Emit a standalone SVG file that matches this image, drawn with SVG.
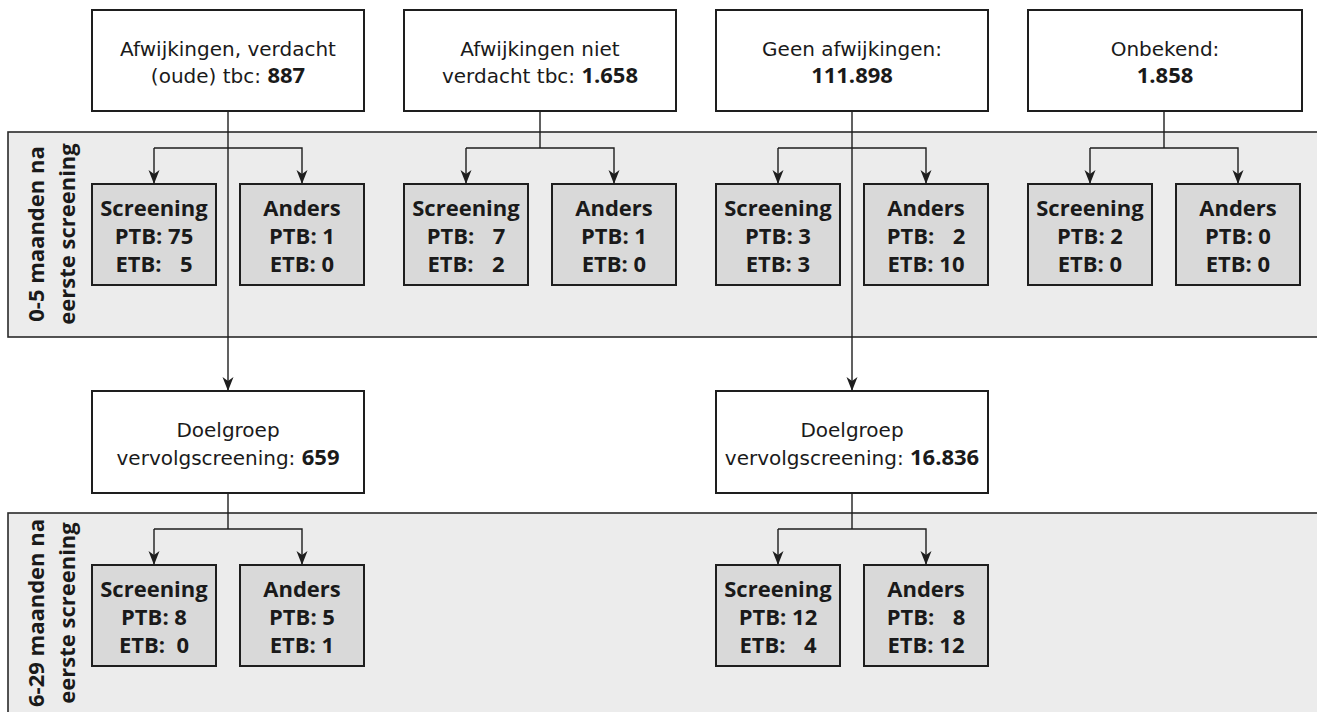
<svg xmlns="http://www.w3.org/2000/svg" width="1317" height="712" viewBox="0 0 1317 712">
<style>
.band{fill:#ececec;stroke:#2a2a2a;stroke-width:1.6}
.top{fill:#fff;stroke:#1e1e1e;stroke-width:2}
.sm{fill:#d9d9d9;stroke:#1e1e1e;stroke-width:2}
.tt{font-family:"DejaVu Sans","Liberation Sans",sans-serif;font-size:20px;fill:#1a1a1a;text-anchor:middle}
.tt .b{font-family:"Open Sans","Noto Sans",sans-serif;font-size:22px;font-weight:bold}
.st{font-family:"Open Sans","Noto Sans",sans-serif;font-size:22px;font-weight:bold;fill:#1a1a1a;text-anchor:middle}
.bl{font-family:"Open Sans","Noto Sans",sans-serif;font-size:22px;font-weight:bold;fill:#1a1a1a;text-anchor:middle}
.c{fill:none;stroke:#1e1e1e;stroke-width:1.4}
</style>
<defs>
<marker id="ah" markerUnits="userSpaceOnUse" markerWidth="15" markerHeight="12" refX="14" refY="5.5" orient="auto">
<path d="M0,0 L14,5.5 L0,11 L4,5.5 Z" fill="#1e1e1e"/>
</marker>
</defs>

<g id="band1">
<rect class="band" x="8" y="132" width="1320" height="205"/>
<text class="bl" transform="translate(44,234) rotate(-90)">0-5 maanden na</text>
<text class="bl" transform="translate(75,234) rotate(-90)">eerste screening</text>
</g>
<g id="band2">
<rect class="band" x="8" y="513" width="1320" height="220"/>
<text class="bl" transform="translate(44,613) rotate(-90)">6-29 maanden na</text>
<text class="bl" transform="translate(75,613) rotate(-90)">eerste screening</text>
</g>

<g id="connectors">
<path class="c" d="M228,111 V391" marker-end="url(#ah)"/>
<path class="c" d="M154,148 H302 V184" marker-end="url(#ah)"/>
<path class="c" d="M154,148 V184" marker-end="url(#ah)"/>
<path class="c" d="M540,111 V148"/>
<path class="c" d="M466,148 H614 V184" marker-end="url(#ah)"/>
<path class="c" d="M466,148 V184" marker-end="url(#ah)"/>
<path class="c" d="M852,111 V391" marker-end="url(#ah)"/>
<path class="c" d="M778,148 H926 V184" marker-end="url(#ah)"/>
<path class="c" d="M778,148 V184" marker-end="url(#ah)"/>
<path class="c" d="M1164,111 V148"/>
<path class="c" d="M1090,148 H1238 V184" marker-end="url(#ah)"/>
<path class="c" d="M1090,148 V184" marker-end="url(#ah)"/>
<path class="c" d="M228,493 V529"/>
<path class="c" d="M154,529 H302 V565" marker-end="url(#ah)"/>
<path class="c" d="M154,529 V565" marker-end="url(#ah)"/>
<path class="c" d="M852,493 V529"/>
<path class="c" d="M778,529 H926 V565" marker-end="url(#ah)"/>
<path class="c" d="M778,529 V565" marker-end="url(#ah)"/>
</g>

<g id="top1"><rect class="top" x="92" y="10" width="272" height="101"/>
<text class="tt" x="228" y="56">Afwijkingen, verdacht</text>
<text class="tt" x="228" y="83">(oude) tbc: <tspan class="b">887</tspan></text></g>
<g id="top2"><rect class="top" x="404" y="10" width="272" height="101"/>
<text class="tt" x="540" y="56">Afwijkingen niet</text>
<text class="tt" x="540" y="83">verdacht tbc: <tspan class="b">1.658</tspan></text></g>
<g id="top3"><rect class="top" x="716" y="10" width="272" height="101"/>
<text class="tt" x="852" y="56">Geen afwijkingen:</text>
<text class="tt" x="852" y="83"><tspan class="b">111.898</tspan></text></g>
<g id="top4"><rect class="top" x="1028" y="10" width="274" height="101"/>
<text class="tt" x="1165" y="56">Onbekend:</text>
<text class="tt" x="1165" y="83"><tspan class="b">1.858</tspan></text></g>

<g id="s1"><rect class="sm" x="92" y="184" width="124" height="101"/>
<text class="st" x="154" y="216">Screening</text><text class="st" x="154" y="244">PTB: 75</text><text class="st" x="154" y="272">ETB: &#8199;5</text></g>
<g id="a1"><rect class="sm" x="240" y="184" width="124" height="101"/>
<text class="st" x="302" y="216">Anders</text><text class="st" x="302" y="244">PTB: 1</text><text class="st" x="302" y="272">ETB: 0</text></g>
<g id="s2"><rect class="sm" x="404" y="184" width="124" height="101"/>
<text class="st" x="466" y="216">Screening</text><text class="st" x="466" y="244">PTB: &#8199;7</text><text class="st" x="466" y="272">ETB: &#8199;2</text></g>
<g id="a2"><rect class="sm" x="552" y="184" width="124" height="101"/>
<text class="st" x="614" y="216">Anders</text><text class="st" x="614" y="244">PTB: 1</text><text class="st" x="614" y="272">ETB: 0</text></g>
<g id="s3"><rect class="sm" x="716" y="184" width="124" height="101"/>
<text class="st" x="778" y="216">Screening</text><text class="st" x="778" y="244">PTB: 3</text><text class="st" x="778" y="272">ETB: 3</text></g>
<g id="a3"><rect class="sm" x="864" y="184" width="124" height="101"/>
<text class="st" x="926" y="216">Anders</text><text class="st" x="926" y="244">PTB: &#8199;2</text><text class="st" x="926" y="272">ETB: 10</text></g>
<g id="s4"><rect class="sm" x="1028" y="184" width="124" height="101"/>
<text class="st" x="1090" y="216">Screening</text><text class="st" x="1090" y="244">PTB: 2</text><text class="st" x="1090" y="272">ETB: 0</text></g>
<g id="a4"><rect class="sm" x="1176" y="184" width="124" height="101"/>
<text class="st" x="1238" y="216">Anders</text><text class="st" x="1238" y="244">PTB: 0</text><text class="st" x="1238" y="272">ETB: 0</text></g>

<g id="d1"><rect class="top" x="92" y="391" width="272" height="102"/>
<text class="tt" x="228" y="437">Doelgroep</text>
<text class="tt" x="228" y="465">vervolgscreening: <tspan class="b">659</tspan></text></g>
<g id="d2"><rect class="top" x="716" y="391" width="272" height="102"/>
<text class="tt" x="852" y="437">Doelgroep</text>
<text class="tt" x="852" y="465">vervolgscreening: <tspan class="b">16.836</tspan></text></g>

<g id="s5"><rect class="sm" x="92" y="565" width="124" height="101"/>
<text class="st" x="154" y="597">Screening</text><text class="st" x="154" y="625">PTB: 8</text><text class="st" x="154" y="653" xml:space="preserve">ETB:  0</text></g>
<g id="a5"><rect class="sm" x="240" y="565" width="124" height="101"/>
<text class="st" x="302" y="597">Anders</text><text class="st" x="302" y="625">PTB: 5</text><text class="st" x="302" y="653">ETB: 1</text></g>
<g id="s6"><rect class="sm" x="716" y="565" width="124" height="101"/>
<text class="st" x="778" y="597">Screening</text><text class="st" x="778" y="625">PTB: 12</text><text class="st" x="778" y="653">ETB: &#8199;4</text></g>
<g id="a6"><rect class="sm" x="864" y="565" width="124" height="101"/>
<text class="st" x="926" y="597">Anders</text><text class="st" x="926" y="625">PTB: &#8199;8</text><text class="st" x="926" y="653">ETB: 12</text></g>
</svg>
